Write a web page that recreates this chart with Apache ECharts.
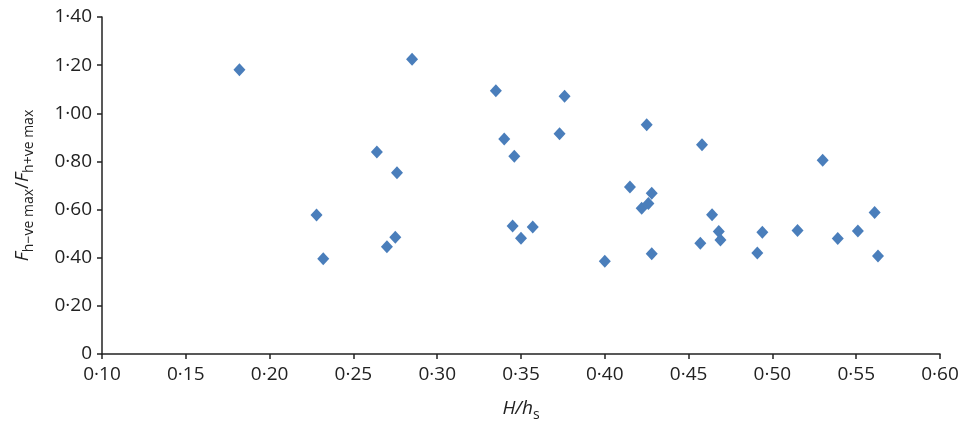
<!DOCTYPE html>
<html lang="en">
<head>
	<meta charset="utf-8">
	<title>Force ratio vs H/hs</title>
	<script src="https://cdn.jsdelivr.net/npm/echarts@6/dist/echarts.min.js"></script>
	<style type="text/css">
		html, body {margin:0;padding:0;background:#fff}
		#chart {width:962px;height:423px}
	</style>
</head>
<body>
	<div id="chart"></div>
	<script>
		// H/hs values
		var x_values = [
			0.182, 0.285, 0.264, 0.276, 0.228, 0.232, 0.270, 0.275,
			0.335, 0.376, 0.340, 0.346, 0.373, 0.425, 0.458, 0.530,
			0.415, 0.428, 0.422, 0.426, 0.464, 0.561, 0.345, 0.357,
			0.350, 0.468, 0.469, 0.457, 0.494, 0.515, 0.539, 0.551,
			0.491, 0.563, 0.428, 0.400
		];
		// F(h-ve max) / F(h+ve max)
		var y_values = [
			1.181, 1.225, 0.839, 0.753, 0.577, 0.396, 0.446, 0.485,
			1.094, 1.071, 0.893, 0.822, 0.915, 0.952, 0.869, 0.805,
			0.694, 0.668, 0.606, 0.625, 0.578, 0.588, 0.532, 0.528,
			0.481, 0.509, 0.474, 0.460, 0.506, 0.513, 0.480, 0.511,
			0.420, 0.407, 0.416, 0.385
		];
		var font = "'Open Sans', 'Noto Sans', sans-serif";

		var points = [];
		for (var i = 0; i < x_values.length; i++) {
			points.push([x_values[i], y_values[i]]);
		}

		function dot_label(v) {
			if (v === 0) return '0';
			return v.toFixed(2).replace('.', '\u00b7');
		}

		var myChart = echarts.init(document.getElementById("chart"), null, {renderer: 'canvas'});

		var option = {
			animation: false,
			grid: {left: 102, right: 22, top: 17, bottom: 69, outerBoundsMode: 'none', containLabel: false},
			xAxis: {
				type: 'value',
				min: 0.10,
				max: 0.60,
				interval: 0.05,
				name: '{i|H/h}{s|s}',
				nameLocation: 'middle',
				nameGap: 42,
				nameTextStyle: {
					rich: {
						i: {fontFamily: font, fontSize: 19, fontStyle: 'italic', color: '#222', lineHeight: 26},
						s: {fontFamily: font, fontSize: 14, color: '#222', lineHeight: 13, verticalAlign: 'bottom'}
					}
				},
				splitLine: {show: false},
				axisLine: {lineStyle: {color: '#222', width: 1.5}},
				axisTick: {length: 5, lineStyle: {color: '#222', width: 1.5}},
				axisLabel: {
					formatter: dot_label,
					fontFamily: font,
					fontSize: 19,
					color: '#222',
					margin: 11
				}
			},
			yAxis: {
				type: 'value',
				min: 0,
				max: 1.40,
				interval: 0.20,
				name: '{i|F}{s|h\u2212ve max}{n|/}{i|F}{s|h+ve max}',
				nameLocation: 'middle',
				nameGap: 66,
				nameTextStyle: {
					rich: {
						i: {fontFamily: font, fontSize: 19, fontStyle: 'italic', color: '#222', lineHeight: 26},
						n: {fontFamily: font, fontSize: 19, color: '#222', lineHeight: 26},
						s: {fontFamily: font, fontSize: 14, color: '#222', lineHeight: 14, verticalAlign: 'bottom'}
					}
				},
				splitLine: {show: false},
				axisLine: {show: true, lineStyle: {color: '#222', width: 1.5}},
				axisTick: {show: true, length: 5, lineStyle: {color: '#222', width: 1.5}},
				axisLabel: {
					formatter: dot_label,
					fontFamily: font,
					fontSize: 19,
					color: '#222',
					margin: 10
				}
			},
			series: [
				{
					type: 'scatter',
					symbol: 'diamond',
					symbolSize: [12, 13],
					itemStyle: {color: '#4a7ebb', opacity: 1},
					data: points
				}
			]
		};

		myChart.setOption(option);
	</script>
</body>
</html>
